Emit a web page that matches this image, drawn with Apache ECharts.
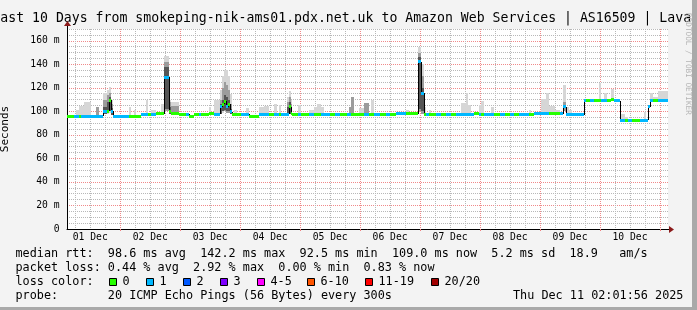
<!DOCTYPE html>
<html>
<head>
<meta charset="utf-8">
<script src="https://cdn.jsdelivr.net/npm/echarts@6/dist/echarts.min.js"></script>
<style>
html, body { margin: 0; padding: 0; background: #f3f3f3; }
#main { width: 697px; height: 310px; }
</style>
</head>
<body>
<div id="main"></div>
<script>
var _ = null;

// x = hours since 01 Dec 00:00
var dayLabels = ['01 Dec', '02 Dec', '03 Dec', '04 Dec', '05 Dec', '06 Dec', '07 Dec', '08 Dec', '09 Dec', '10 Dec'];
var yTicks = [0, 20, 40, 60, 80, 100, 120, 140, 160];

// one entry per step of the median line
var segStart = [
    2.7, 5.6, 6.3, 7.6, 8.3, 9.6, 12.3, 14.3, 15.6, 17.3,
    18.7, 19.5, 20.3, 21.3, 27.6, 28.3, 29.6, 30.3, 32.3, 34.3,
    35.3, 36.5, 38.3, 40.3, 41.6, 43.7, 44.5, 47.6, 50.3, 51.6,
    53.6, 55.6, 56.3, 59.6, 60.3, 61.6, 64, 64.9, 65.6, 66.4,
    67.2, 68, 68.9, 69.6, 70.7, 72.3, 74.3, 75.6, 79.6, 81.6,
    83.6, 85.6, 86.9, 87.6, 88.3, 90.9, 91.6, 92.3, 92.9, 95.2,
    96.4, 99.6, 101.6, 102.9, 104.3, 105.6, 108, 110, 112, 114.7,
    115.6, 116.3, 117.6, 119.6, 121.6, 123.6, 124.3, 125.6, 128, 130.4,
    132, 134.3, 138.3, 139.6, 143.3, 144.5, 145.6, 146.3, 147.6, 148.3,
    150.4, 152.4, 154.4, 156.4, 158.4, 160.3, 162.3, 163.3, 164.3, 165.6,
    167.6, 168.3, 169.6, 172.3, 173.6, 176, 178, 180, 181.6, 183.6,
    187.6, 188.3, 189.6, 192.3, 194.3, 195.6, 198, 200, 201.2, 202.4,
    203.6, 204.9, 209.6, 210.4, 212, 213.6, 215.6, 216.5, 217.6, 218.7,
    220.3, 221.6, 224, 226, 227.2, 228.8, 232, 233.6, 234.4, 235.2,
    236, 237.3, 239.2
];

// median rtt, ms
var median = [
    96, 96, 96, 96, 96, 96, 96, 96, 96, 99.7,
    100, 109.6, 100, 96, 96, 96, 96, 96, 97, 97.5,
    97.5, 97.5, 98, 98, 129, 99.7, 98, 97, 97.5, 96,
    97, 97.5, 97.5, 98, 98, 97.7, 103.7, 106, 108.7, 103.7,
    106, 99.7, 97.7, 97.7, 97.7, 97.7, 97.7, 96, 97.7, 97.7,
    97.7, 97.7, 97.7, 97.7, 97.7, 97.7, 103.7, 98, 97.7, 97.7,
    97.7, 97.7, 97.7, 97.7, 97.7, 97.7, 97.7, 97.7, 97.7, 97.7,
    97.7, 97.7, 97.7, 97.7, 97, 97, 97, 97, 97, 97,
    97, 98, 98, 98, 142.2, 115.3, 97, 97, 97, 97,
    97, 97, 97, 97, 97, 97, 97, 97, 97, 98,
    97, 97, 97, 97, 97, 97, 97, 97, 97, 97,
    97, 97, 98.1, 98.1, 98.1, 98.1, 98.1, 98.1, 104, 97,
    97, 97, 109, 109, 109, 109, 109, 109, 109, 109,
    110, 109, 92.5, 92.5, 92.5, 92.5, 92.5, 92.5, 92.5, 104,
    109, 109, 109
];

// lost pings out of 20
var lossCount = [
    0, 1, 1, 0, 1, 1, 1, 1, 1, 1,
    0, 0, 1, 1, 0, 0, 0, 0, 1, 1,
    0, 1, 0, 0, 1, 0, 0, 0, 1, 0,
    0, 1, 0, 0, 0, 1, 1, 0, 0, 1,
    0, 1, 0, 0, 0, 1, 1, 0, 1, 1,
    0, 1, 1, 0, 1, 1, 0, 0, 0, 1,
    0, 1, 0, 0, 1, 1, 0, 1, 0, 1,
    1, 0, 0, 0, 1, 0, 0, 1, 0, 1,
    0, 1, 0, 0, 1, 1, 0, 1, 0, 0,
    1, 0, 1, 0, 1, 1, 1, 1, 1, 0,
    1, 0, 1, 1, 0, 1, 0, 1, 0, 1,
    0, 0, 1, 1, 1, 0, 0, 1, 1, 1,
    1, 1, 1, 0, 1, 0, 0, 1, 1, 0,
    0, 1, 1, 0, 1, 0, 1, 1, 1, 1,
    1, 0, 1
];

// smoke: [low, high] ms of the outer, middle and inner ping bands
var smokeLight = [
    _, _, [96, 101], [96, 104.5], [96, 104.5], [96, 108], _, _, _, [98, 115.5],
    [98, 118], [99, 121], [97, 110], _, [96, 104], _, [96, 101], _, _, [97, 109.6],
    _, [97, 101], _, [98, 106], [100, 147], [98, 110], [98, 108], _, _, _,
    _, _, _, [98, 104], _, [97, 110], [98, 118], [99, 130], [100, 135], [99, 135],
    [99, 130], [98, 115], _, [97.7, 101], _, _, [97.7, 102.5], _, [97.7, 103.7], [97.7, 104.5],
    _, [97.7, 106.5], _, [97.7, 105], _, [97, 112], [98, 117], [98, 110], _, [97.7, 105.6],
    _, [97.7, 101], [97.7, 104], [97.7, 106], [97.7, 104], _, _, _, _, _,
    _, _, _, [97.7, 102.5], _, _, [97, 109.6], _, _, _,
    _, _, [98, 101], _, [100, 155], [98, 140], [97, 104], _, [97, 101], _,
    _, _, _, _, _, [97, 107], [97, 115.8], [97, 105.5], _, _,
    [97, 105.5], [97, 108.5], _, [97, 104], _, _, _, _, _, _,
    [97, 101], _, _, [98, 110.5], [98, 115.5], [98, 104.5], [98, 101.5], _, [100, 122.6], [97, 104],
    [97, 101], _, _, _, _, _, [109, 124], _, [109, 115.5], _,
    [110, 119], _, [92.5, 97.7], [92.5, 95.5], _, _, _, [92.5, 99.5], _, _,
    [109, 115.5], [109, 112.5], [109, 117.6]
];

var smokeMid = [
    _, _, _, _, _, _, _, [96, 104], _, [98, 110],
    [99, 114], [100, 116], [97, 106], _, _, _, _, _, _, _,
    _, _, _, _, [100, 142], [98, 108], [98, 104.5], _, _, _,
    _, _, _, _, _, _, [98, 110], [100, 120], [100, 125], [99, 122],
    [99, 118], [98, 106], _, _, _, _, _, _, _, _,
    _, _, _, _, _, [97, 108], [98, 112], [98, 106], _, _,
    _, _, _, _, _, _, _, _, _, _,
    [97.7, 103.9], [97.7, 112], _, _, [97, 107], _, _, _, _, _,
    _, _, _, _, [100, 150], [98, 130], _, _, _, _,
    _, _, _, _, _, _, _, _, _, _,
    _, _, _, _, _, _, _, _, _, _,
    _, _, _, _, _, _, _, _, [100, 108], _,
    _, _, _, _, _, _, _, _, _, _,
    _, _, _, _, _, _, _, _, _, _,
    _, _, _
];

var smokeDark = [
    _, _, _, _, _, _, _, _, _, [98, 104],
    [99, 108], [100, 112], [97, 103], _, _, _, _, _, _, _,
    _, _, _, _, [102, 138], [98, 104], _, _, _, _,
    _, _, _, _, _, _, [98, 106], [100, 110], [101, 114], [100, 112],
    [100, 110], [98, 102], _, _, _, _, _, _, _, _,
    _, _, _, _, _, [97, 104], [98, 108], _, _, _,
    _, _, _, _, _, _, _, _, _, _,
    _, _, _, _, _, _, _, _, _, _,
    _, _, _, _, [102, 146], [100, 120], _, _, _, _,
    _, _, _, _, _, _, _, _, _, _,
    _, _, _, _, _, _, _, _, _, _,
    _, _, _, _, _, _, _, _, _, _,
    _, _, _, _, _, _, _, _, _, _,
    _, _, _, _, _, _, _, _, _, _,
    _, _, _
];

var lossLabels = ['0', '1', '2', '3', '4-5', '6-10', '11-19', '20/20'];
var lossColors = ['#26ff00', '#00b8ff', '#0059ff', '#7e00ff', '#ff00ff', '#ff5500', '#ff0000', '#a10000'];

var statLines = [
    'median rtt:  98.6 ms avg  142.2 ms max  92.5 ms min  109.0 ms now  5.2 ms sd  18.9   am/s',
    'packet loss: 0.44 % avg  2.92 % max  0.00 % min  0.83 % now',
    'loss color:',
    'probe:       20 ICMP Echo Pings (56 Bytes) every 300s'
];
var stamp = 'Thu Dec 11 02:01:56 2025';
var title = 'Last 10 Days from smokeping-nik-ams01.pdx.net.uk to Amazon Web Services | AS16509 | Lava';

var X_MIN = 2.7, X_MAX = 243.2;
var MONO = '"DejaVu Sans Mono", "Liberation Mono", monospace';

var N = segStart.length;
function segEnd(i) {
    return i + 1 < N ? segStart[i + 1] : X_MAX;
}
function lossIndex(n) {
    if (n <= 3) return n;
    if (n <= 5) return 4;
    if (n <= 10) return 5;
    if (n <= 19) return 6;
    return 7;
}
function bandData(arr) {
    var out = [];
    for (var i = 0; i < N; i++) {
        if (arr[i]) out.push([segStart[i], segEnd(i), arr[i][0], arr[i][1]]);
    }
    return out;
}
var medianData = segStart.map(function (t, i) {
    return [t, segEnd(i), median[i], lossCount[i], i > 0 ? median[i - 1] : median[i]];
});

var majorX = [], minorX = [], labelX = [], minorY = [];
for (var h = 6; h < X_MAX; h += 6) {
    if (h % 24 === 0) majorX.push(h);
    else minorX.push(h);
}
for (var d = 0; d < dayLabels.length; d++) labelX.push(12 + d * 24);
for (var v = 5; v <= 170; v += 5) {
    if (v % 20 !== 0) minorY.push(v);
}

function renderBand(color) {
    return function (params, api) {
        var p0 = api.coord([api.value(0), api.value(3)]);
        var p1 = api.coord([api.value(1), api.value(2)]);
        var x0 = Math.round(p0[0]), x1 = Math.round(p1[0]);
        var y0 = Math.round(p0[1]), y1 = Math.round(p1[1]);
        return {
            type: 'rect',
            shape: { x: x0, y: y0, width: x1 - x0, height: y1 - y0 },
            style: { fill: color }
        };
    };
}

function renderMedian(params, api) {
    var a = api.coord([api.value(0), api.value(2)]);
    var b = api.coord([api.value(1), api.value(2)]);
    var prev = api.coord([api.value(0), api.value(4)]);
    var x0 = Math.round(a[0]), x1 = Math.round(b[0]);
    var children = [];
    if (Math.abs(prev[1] - a[1]) > 1) {
        children.push({
            type: 'line',
            shape: { x1: x0 + 0.5, y1: Math.round(prev[1]), x2: x0 + 0.5, y2: Math.round(a[1]) },
            style: { stroke: '#000', lineWidth: 1 }
        });
    }
    children.push({
        type: 'rect',
        shape: { x: x0, y: Math.round(a[1] - 1.5), width: x1 - x0, height: 3 },
        style: { fill: lossColors[lossIndex(api.value(3))] }
    });
    return { type: 'group', children: children };
}

var graphics = [
    { type: 'rect', shape: { x: 692, y: 0, width: 5, height: 310 }, style: { fill: '#a9a9a9' }, z: 100 },
    { type: 'rect', shape: { x: 0, y: 307, width: 697, height: 3 }, style: { fill: '#a9a9a9' }, z: 100 },
    {
        type: 'text', x: -7.6, y: 18.4,
        style: { text: title, font: '13.2px ' + MONO, fill: '#000', align: 'left', verticalAlign: 'middle' }
    },
    {
        type: 'text', x: 688, y: 13, rotation: -Math.PI / 2,
        style: { text: 'RRDTOOL / TOBI OETIKER', font: '7.7px ' + MONO, fill: '#b4b4b4', align: 'left', verticalAlign: 'middle' }
    },
    { type: 'line', shape: { x1: 67.5, y1: 29, x2: 67.5, y2: 25 }, style: { stroke: '#000', lineWidth: 1 } },
    { type: 'polygon', shape: { points: [[64, 26], [71, 26], [67.5, 21]] }, style: { fill: '#8b1a1a' } },
    { type: 'line', shape: { x1: 667, y1: 229.5, x2: 670, y2: 229.5 }, style: { stroke: '#000', lineWidth: 1 } },
    { type: 'polygon', shape: { points: [[669, 226], [669, 233], [674, 229.5]] }, style: { fill: '#8b1a1a' } },
    {
        type: 'text', x: 513, y: 296,
        style: { text: stamp, font: '11.8px ' + MONO, fill: '#000', align: 'left', verticalAlign: 'middle' }
    }
];
var lineY = [254.3, 268.3, 282.3, 296];
statLines.forEach(function (s, i) {
    graphics.push({
        type: 'text', x: 15.5, y: lineY[i],
        style: { text: s, font: '11.8px ' + MONO, fill: '#000', align: 'left', verticalAlign: 'middle' }
    });
});
var boxX = [109, 146, 183, 220, 257, 307, 365, 431];
lossLabels.forEach(function (lab, i) {
    graphics.push({
        type: 'rect', shape: { x: boxX[i] + 0.5, y: 278.5, width: 7, height: 7 },
        style: { fill: lossColors[i], stroke: '#000', lineWidth: 1 }
    });
    graphics.push({
        type: 'text', x: boxX[i] + 13.5, y: 282.3,
        style: { text: lab, font: '11.8px ' + MONO, fill: '#000', align: 'left', verticalAlign: 'middle' }
    });
});

var myChart = echarts.init(document.getElementById('main'));

var option = {
    animation: false,
    backgroundColor: '#f3f3f3',
    grid: {
        left: 67, right: 29, top: 29, bottom: 81,
        show: true, backgroundColor: '#ffffff', borderWidth: 0,
        outerBoundsMode: 'none'
    },
    xAxis: [
        {
            type: 'value', min: X_MIN, max: X_MAX, position: 'top',
            axisLine: { show: false }, axisLabel: { show: false },
            axisTick: { show: false, customValues: minorX },
            splitLine: { show: true, lineStyle: { color: '#b8b8b8', width: 1, type: [1, 1] } }
        },
        {
            type: 'value', min: X_MIN, max: X_MAX, position: 'bottom',
            axisLine: { show: true, onZero: false, lineStyle: { color: '#000', width: 1 } },
            axisTick: { show: true, customValues: majorX, length: 2, lineStyle: { color: '#f08080' } },
            axisLabel: {
                customValues: labelX, margin: 3,
                fontFamily: MONO, fontSize: 9.7, color: '#000',
                formatter: function (val) { return dayLabels[Math.round((val - 12) / 24)]; }
            },
            splitLine: { show: true, lineStyle: { color: '#f08a8a', width: 1, type: [1, 1] } }
        }
    ],
    yAxis: [
        {
            type: 'value', min: 0, max: 170, position: 'right',
            axisLine: { show: false }, axisLabel: { show: false },
            axisTick: { show: false, customValues: minorY },
            splitLine: { show: true, lineStyle: { color: '#b8b8b8', width: 1, type: [1, 1] } }
        },
        {
            type: 'value', min: 0, max: 170, interval: 20, position: 'left',
            name: 'Seconds', nameLocation: 'middle', nameGap: 56, nameRotate: 90,
            nameTextStyle: { fontFamily: MONO, fontSize: 11, color: '#000' },
            axisLine: { show: true, onZero: false, lineStyle: { color: '#000', width: 1 } },
            axisTick: { show: false, customValues: yTicks },
            axisLabel: {
                customValues: yTicks, margin: 7.5,
                fontFamily: MONO, fontSize: 9.7, color: '#000',
                formatter: function (val) { return val === 0 ? '0' : val + ' m'; }
            },
            splitLine: { show: true, lineStyle: { color: '#f08a8a', width: 1, type: [1, 1] } }
        }
    ],
    series: [
        {
            name: 'smoke outer', type: 'custom', xAxisIndex: 1, yAxisIndex: 1,
            renderItem: renderBand('#d6d6d6'), encode: { x: [0, 1], y: [2, 3] },
            data: bandData(smokeLight), clip: true
        },
        {
            name: 'smoke middle', type: 'custom', xAxisIndex: 1, yAxisIndex: 1,
            renderItem: renderBand('#9c9c9c'), encode: { x: [0, 1], y: [2, 3] },
            data: bandData(smokeMid), clip: true
        },
        {
            name: 'smoke inner', type: 'custom', xAxisIndex: 1, yAxisIndex: 1,
            renderItem: renderBand('#555555'), encode: { x: [0, 1], y: [2, 3] },
            data: bandData(smokeDark), clip: true
        },
        {
            name: 'median rtt', type: 'custom', xAxisIndex: 1, yAxisIndex: 1,
            renderItem: renderMedian, encode: { x: [0, 1], y: 2 },
            data: medianData, clip: true
        }
    ],
    graphic: graphics
};

option && myChart.setOption(option, true);
</script>
</body>
</html>
